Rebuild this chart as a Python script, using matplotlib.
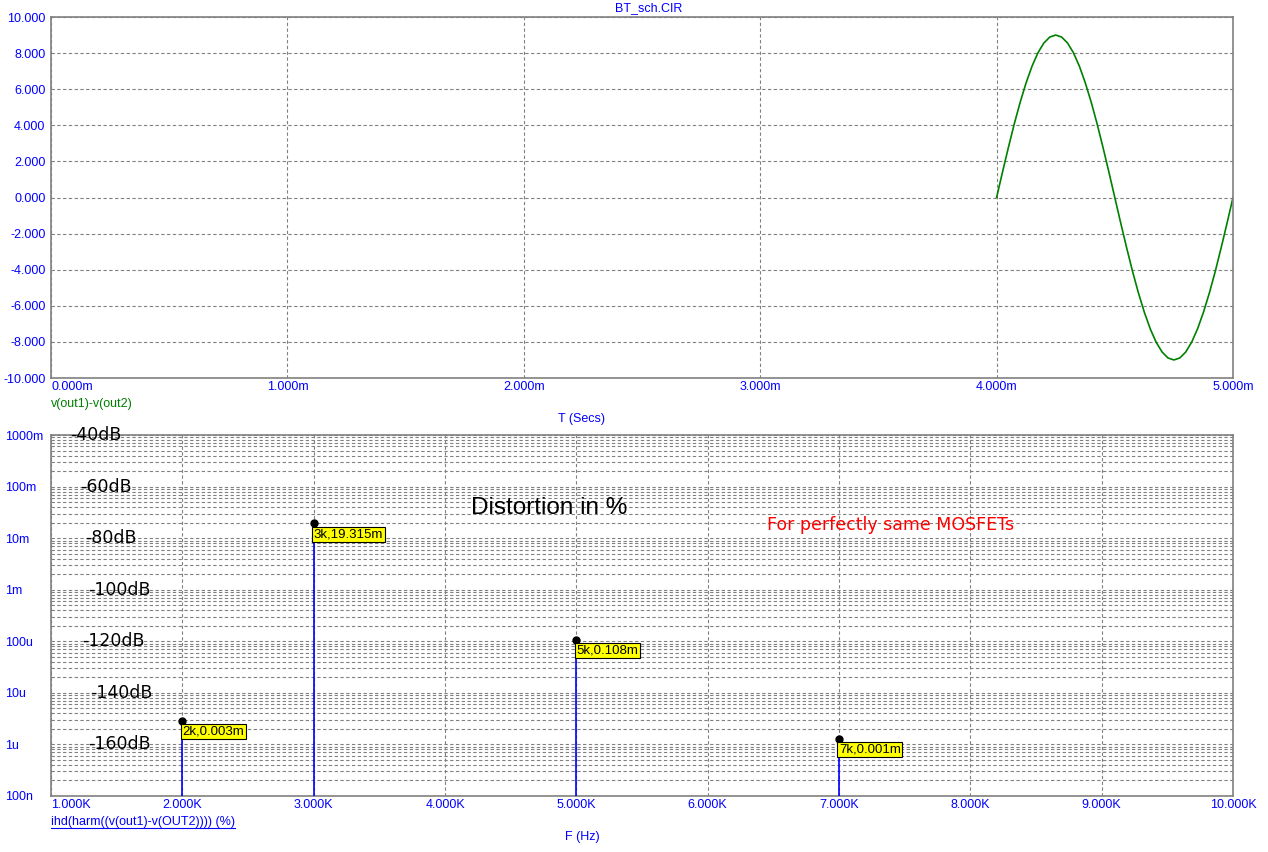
import matplotlib.pyplot as plt
from matplotlib.ticker import FixedLocator, FixedFormatter, NullFormatter
from matplotlib.lines import Line2D

# transient: v(out1)-v(out2) (ms, V)
t_ms = [4.000, 4.025, 4.050, 4.075, 4.100, 4.125, 4.150, 4.175, 4.200, 4.225,
        4.250, 4.275, 4.300, 4.325, 4.350, 4.375, 4.400, 4.425, 4.450, 4.475,
        4.500, 4.525, 4.550, 4.575, 4.600, 4.625, 4.650, 4.675, 4.700, 4.725,
        4.750, 4.775, 4.800, 4.825, 4.850, 4.875, 4.900, 4.925, 4.950, 4.975,
        5.000]
v_diff = [0.00, 1.41, 2.78, 4.09, 5.29, 6.36, 7.28, 8.02, 8.56, 8.89,
          9.00, 8.89, 8.56, 8.02, 7.28, 6.36, 5.29, 4.09, 2.78, 1.41,
          0.00, -1.41, -2.78, -4.09, -5.29, -6.36, -7.28, -8.02, -8.56, -8.89,
          -9.00, -8.89, -8.56, -8.02, -7.28, -6.36, -5.29, -4.09, -2.78, -1.41,
          0.00]

# harmonic distortion (%)
harm_freq = [2000, 3000, 5000, 7000]
harm_pct = [2.9e-6, 19.315e-3, 0.108e-3, 1.3e-6]

y_dec = [1e-7, 1e-6, 1e-5, 1e-4, 1e-3, 1e-2, 1e-1, 1]
y_dec_labels = ["100n", "1u", "10u", "100u", "1m", "10m", "100m", "1000m"]
db_labels = ["-40dB", "-60dB", "-80dB", "-100dB", "-120dB", "-140dB", "-160dB"]
db_values = [1, 1e-1, 1e-2, 1e-3, 1e-4, 1e-5, 1e-6]
db_x = [1145, 1221, 1259, 1282, 1236, 1297, 1282]

BLUE = "#0000ff"
GRAY = "#808080"
GREEN = "#008000"
TICKFONT = "Liberation Sans"

plt.rcParams['font.family'] = ['Liberation Sans', 'DejaVu Sans']

fig = plt.figure(figsize=(12.68, 8.52), dpi=100)
W, H = 1268, 852
ax1 = fig.add_axes([51 / W, 1 - 378 / H, 1182 / W, 361 / H])
ax2 = fig.add_axes([51 / W, 1 - 796 / H, 1182 / W, 361 / H])

grid_kw = dict(color=GRAY, linewidth=0.8, dashes=(3, 2.2))

def style_axes(ax):
    for s in ax.spines.values():
        s.set_color(GRAY)
        s.set_linewidth(1.2)
    ax.tick_params(which="both", length=0, colors=BLUE, labelsize=9)
    for lab in ax.get_xticklabels() + ax.get_yticklabels():
        lab.set_fontfamily(TICKFONT)

# ---- top: transient ----
ax1.plot(t_ms, v_diff, color=GREEN, linewidth=1.2)
ax1.set_xlim(0, 5)
ax1.set_ylim(-10, 10)
xt = [0, 1, 2, 3, 4, 5]
ax1.xaxis.set_major_locator(FixedLocator(xt))
ax1.xaxis.set_major_formatter(FixedFormatter([f"{v:.3f}m" for v in xt]))
yt = list(range(-10, 11, 2))
ax1.yaxis.set_major_locator(FixedLocator(yt))
ax1.yaxis.set_major_formatter(FixedFormatter([f"{v:.3f}" for v in yt]))
ax1.grid(True, which="major", **grid_kw)
style_axes(ax1)
ax1.tick_params(axis="x", pad=2)
ax1.tick_params(axis="y", pad=4)
ax1.get_xticklabels()[0].set_horizontalalignment("left")

fig.text(649 / W, 1 - 8 / H, "BT_sch.CIR", color=BLUE, fontsize=9, ha="center", va="center")
fig.text(51 / W, 1 - 404 / H, "v(out1)-v(out2)", color=GREEN, fontsize=9, ha="left", va="center")
fig.text(581 / W, 1 - 419 / H, "T (Secs)", color=BLUE, fontsize=9, ha="center", va="center")

# ---- bottom: harmonics ----
ax2.set_yscale("log")
ax2.set_xlim(1000, 10000)
ax2.set_ylim(1e-7, 1)
xt2 = list(range(1000, 10001, 1000))
ax2.xaxis.set_major_locator(FixedLocator(xt2))
ax2.xaxis.set_major_formatter(FixedFormatter([f"{v / 1000:.3f}K" for v in xt2]))
ax2.yaxis.set_major_locator(FixedLocator(y_dec))
ax2.yaxis.set_major_formatter(FixedFormatter(y_dec_labels))
minor = [m * d for d in y_dec[:-1] for m in range(2, 10)]
ax2.yaxis.set_minor_locator(FixedLocator(minor))
ax2.yaxis.set_minor_formatter(NullFormatter())
ax2.grid(True, which="both", **grid_kw)
style_axes(ax2)
ax2.tick_params(axis="x", pad=2)
ax2.tick_params(axis="y", pad=33)
for lab in ax2.get_yticklabels():
    lab.set_horizontalalignment("left")
ax2.get_xticklabels()[0].set_horizontalalignment("left")

ax2.vlines(harm_freq, 1e-7, harm_pct, color=BLUE, linewidth=1.2, zorder=3)
ax2.plot(harm_freq, harm_pct, "o", color="black", markersize=5, zorder=4)
for f, p in zip(harm_freq, harm_pct):
    ax2.annotate(f"{f // 1000}k,{p * 1e3:.3f}m", (f, p), xytext=(0, -5),
                 textcoords="offset pixels", ha="left", va="top",
                 fontsize=9.5, color="black", zorder=5,
                 bbox=dict(boxstyle="square,pad=0.12", fc="#ffff00", ec="black", lw=0.8))

for lab, v, x in zip(db_labels, db_values, db_x):
    ax2.text(x, v, lab, fontsize=12.5, family="DejaVu Sans", color="black",
             ha="left", va="center", zorder=5)

ax2.text(0.355, 0.798, "Distortion in %", transform=ax2.transAxes, fontsize=17.5,
         color="black", ha="left", va="center")
ax2.text(0.606, 0.751, "For perfectly same MOSFETs", transform=ax2.transAxes, fontsize=12.5,
         family="DejaVu Sans", color="red", ha="left", va="center")

ihd = fig.text(51 / W, 1 - 822 / H, "ihd(harm((v(out1)-v(OUT2)))) (%)", color=BLUE,
               fontsize=9, ha="left", va="center")
fig.text(582 / W, 1 - 837 / H, "F (Hz)", color=BLUE, fontsize=9, ha="center", va="center")

# underline the trace name like the original
fig.canvas.draw()
bb = ihd.get_window_extent().transformed(fig.transFigure.inverted())
fig.add_artist(Line2D([bb.x0, bb.x1], [bb.y0, bb.y0], color=BLUE, linewidth=0.8,
                      transform=fig.transFigure))

fig.savefig("out.png", dpi=100)
